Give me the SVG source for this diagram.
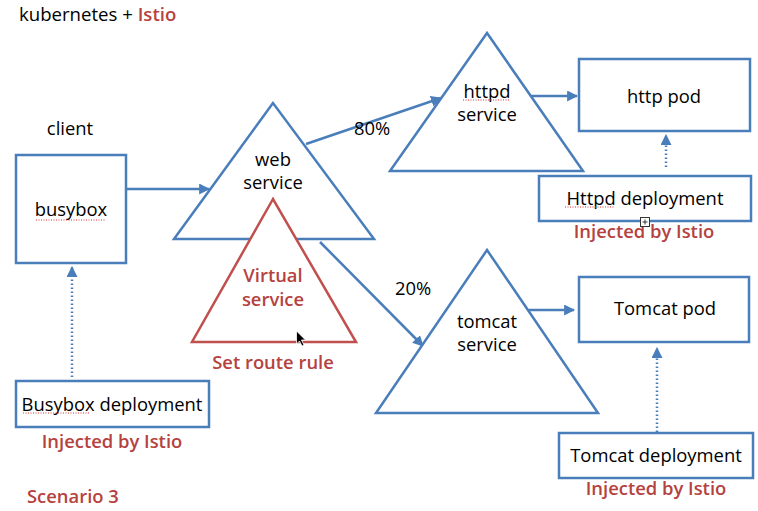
<svg xmlns="http://www.w3.org/2000/svg" width="758" height="511" viewBox="0 0 758 511">
<defs>
<marker id="ah" viewBox="0 0 10 10" refX="9" refY="5" markerWidth="4.4" markerHeight="4.4" orient="auto" markerUnits="strokeWidth">
<path d="M0,0 L10,5 L0,10 z" fill="#4a7ebb"/>
</marker>
<style>
text{font-family:"Open Sans","DejaVu Sans",sans-serif;font-size:18.4px;fill:#000}
.c{text-anchor:middle}
.r{fill:#b5423f;font-weight:600}
.box{fill:#fff;stroke:#4a7ebb;stroke-width:2.5}
.tri{fill:#fff;stroke:#4a7ebb;stroke-width:2.5;stroke-linejoin:miter}
.rtri{fill:#fff;stroke:#c0504d;stroke-width:2.5}
.ln{fill:none;stroke:#4a7ebb;stroke-width:2.5}
.dot{fill:none;stroke:#4a7ebb;stroke-width:2.5;stroke-dasharray:1.5 2.5}
.sq{fill:none;stroke:#e03030;stroke-width:1.2;stroke-dasharray:1 1.5}
</style>
</defs>
<rect width="758" height="511" fill="#fff"/>
<text x="19" y="21" style="font-size:18.6px">kubernetes + <tspan class="r">Istio</tspan></text>
<text x="27" y="503" class="r">Scenario 3</text>

<g id="connectors">
<line class="ln" x1="126" y1="189" x2="209" y2="189" marker-end="url(#ah)"/>
<line class="ln" x1="306" y1="144" x2="441" y2="98" marker-end="url(#ah)"/>
<line class="ln" x1="320" y1="242" x2="423" y2="346" marker-end="url(#ah)"/>
<line class="ln" x1="528" y1="96" x2="577" y2="96" marker-end="url(#ah)"/>
<line class="ln" x1="529" y1="310" x2="574" y2="310" marker-end="url(#ah)"/>
<line class="dot" x1="72" y1="377" x2="72" y2="267" marker-end="url(#ah)"/>
<line class="dot" x1="666" y1="167" x2="666" y2="135" marker-end="url(#ah)"/>
<line class="dot" x1="657" y1="432" x2="657" y2="348" marker-end="url(#ah)"/>
<text x="372" y="135" class="c">80%</text>
<text x="413" y="295" class="c">20%</text>
</g>

<g id="client">
<text x="70" y="135" class="c">client</text>
</g>
<g id="busybox">
<rect class="box" x="16" y="155" width="110" height="108"/>
<text x="71" y="216" class="c">busybox</text>
<line class="sq" x1="36" y1="220" x2="106" y2="220"/>
</g>
<g id="busybox-deployment">
<rect class="box" x="16" y="381" width="193" height="46"/>
<text x="112" y="411" class="c">Busybox deployment</text>
<line class="sq" x1="23" y1="413" x2="90" y2="413"/>
<text x="112" y="448" class="c r">Injected by Istio</text>
</g>
<g id="web-service">
<polygon class="tri" points="273,103 174,239 374,239"/>
<text x="273" y="166" class="c">web</text>
<text x="273" y="189" class="c">service</text>
</g>
<g id="virtual-service">
<polygon class="rtri" points="273,199 192,342 356,342"/>
<text x="273" y="282" class="c r">Virtual</text>
<text x="273" y="306" class="c r">service</text>
<text x="273" y="369" class="c r">Set route rule</text>
</g>
<g id="httpd-service">
<polygon class="tri" points="487,33 390,171 583,171"/>
<text x="487" y="98" class="c">httpd</text>
<line class="sq" x1="463" y1="100" x2="510" y2="100"/>
<text x="487" y="121" class="c">service</text>
</g>
<g id="http-pod">
<rect class="box" x="579" y="59" width="171" height="72"/>
<text x="664" y="103" class="c">http pod</text>
</g>
<g id="httpd-deployment">
<rect class="box" x="539" y="176" width="212" height="45"/>
<text x="645" y="205" class="c">Httpd deployment</text>
<line class="sq" x1="565" y1="207" x2="615" y2="207"/>
<text x="644" y="238" class="c r">Injected by Istio</text>
<rect x="640.5" y="217.5" width="9" height="9" fill="#fff" stroke="#333" stroke-width="1"/>
<path d="M642.5,222 h5 M645,219.5 v5" stroke="#333" stroke-width="1"/>
</g>
<g id="tomcat-service">
<polygon class="tri" points="487,250 376,413 598,413"/>
<text x="487" y="328" class="c">tomcat</text>
<text x="487" y="351" class="c">service</text>
</g>
<g id="tomcat-pod">
<rect class="box" x="579" y="277" width="170" height="65"/>
<text x="665" y="315" class="c">Tomcat pod</text>
</g>
<g id="tomcat-deployment">
<rect class="box" x="559" y="433" width="194" height="45"/>
<text x="656" y="462" class="c">Tomcat deployment</text>
<text x="656" y="495" class="c r">Injected by Istio</text>
</g>
<g id="cursor">
<path d="M296.5,331 L296.5,344 L299.5,341 L302,346 L304,345 L301.5,340 L305.5,340 Z" fill="#000" stroke="#fff" stroke-width="0.8"/>
</g>
</svg>
